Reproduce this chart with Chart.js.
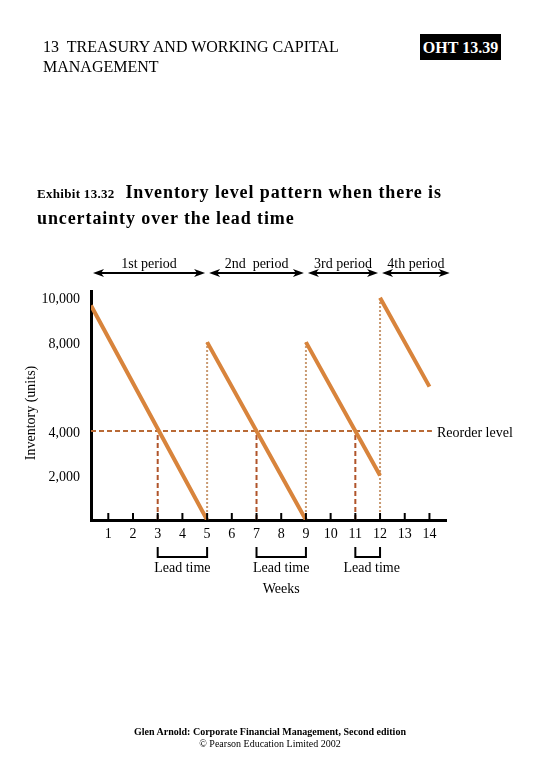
<!DOCTYPE html>
<html>
<head>
<meta charset="utf-8">
<script src="https://cdn.jsdelivr.net/npm/chart.js@4.4.1/dist/chart.umd.min.js"></script>
<style>
  body { margin: 0; background: #fff; font-family: 'Liberation Serif', serif; }
  #wrap { position: relative; width: 540px; height: 780px; overflow: hidden; }
  #inv { position: absolute; left: 0; top: 0; }
  .t { position: absolute; color: #000; white-space: nowrap; }
</style>
</head>
<body>
<div id="wrap">
  <canvas id="inv" width="540" height="780"></canvas>
  <div class="t" style="left:43px;top:37px;font-size:16px;line-height:20px;">13&nbsp; TREASURY AND WORKING CAPITAL<br>MANAGEMENT</div>
  <div class="t" style="left:420px;top:34px;width:81px;height:26px;background:#000;color:#fff;font-weight:bold;font-size:16px;line-height:27px;text-align:center;">OHT 13.39</div>
  <div class="t" style="left:37px;top:180px;font-weight:bold;font-size:18px;line-height:24px;letter-spacing:0.9px;"><span style="font-size:13px;letter-spacing:0.3px;">Exhibit 13.32</span>&nbsp; Inventory level pattern when there is<br>uncertainty over the lead time</div>
  <div class="t" style="left:0;width:540px;top:726px;text-align:center;font-size:10px;line-height:12px;"><b>Glen Arnold: Corporate Financial Management, Second edition</b><br>© Pearson Education Limited 2002</div>
</div>
<script>
// weeks on the x axis, inventory units on the y axis
const weeks = [1,2,3,4,5,6,7,8,9,10,11,12,13,14];
const yTicks = [2000, 4000, 8000, 10000];

// saw-tooth stock level (null breaks the line at each delivery)
const stockWeeks = [0.3, 5, null, 5, 9, null, 9, 12, null, 12, 14];
const stockUnits = [9650, 0, null, 8000, 0, null, 8000, 2000, null, 10000, 6000];

const reorderLevel = 4000;
const reorderWeeks = [3, 7, 11];
const deliveryWeeks = [5, 9, 12];
const deliveryUnits = [8000, 8000, 10000];

const periodLabels = ['1st period', '2nd  period', '3rd period', '4th period'];
const periodBounds = [0.3, 5, 9, 12, 14.9];
const leadStart = [3, 7, 11];
const leadEnd = [5, 9, 12];

var serif = "'Liberation Serif', 'Times New Roman', serif";

var datasets = [];
datasets.push({
    data: stockWeeks.map(function(w, i){ return {x: w, y: stockUnits[i]}; }),
    borderColor: '#d8843c',
    borderWidth: 4,
    pointRadius: 0,
    spanGaps: false,
    order: 0
});
datasets.push({
    data: [{x: 0.3, y: reorderLevel}, {x: 14.1, y: reorderLevel}],
    borderColor: '#b96a36',
    borderWidth: 2,
    borderDash: [5, 3],
    pointRadius: 0,
    order: 2
});
reorderWeeks.forEach(function(w){
    datasets.push({
        data: [{x: w, y: 0}, {x: w, y: reorderLevel}],
        borderColor: '#b0542a',
        borderWidth: 2,
        borderDash: [5, 3],
        pointRadius: 0,
        order: 1
    });
});
deliveryWeeks.forEach(function(w, i){
    datasets.push({
        data: [{x: w, y: 0}, {x: w, y: deliveryUnits[i]}],
        borderColor: '#c99a72',
        borderWidth: 2,
        borderDash: [2, 2],
        pointRadius: 0,
        order: 3
    });
});

function arrowHead(c, x, y, dir){
    c.beginPath();
    c.moveTo(x, y);
    c.lineTo(x - dir*11, y - 4);
    c.lineTo(x - dir*8, y);
    c.lineTo(x - dir*11, y + 4);
    c.closePath();
    c.fill();
}

var extras = {
    id: 'extras',
    afterDraw: function(chart){
        var c = chart.ctx, xs = chart.scales.x, ys = chart.scales.y;
        var area = chart.chartArea;
        c.save();
        c.fillStyle = '#000';
        c.strokeStyle = '#000';

        // tick marks pointing up into the plot
        c.lineWidth = 2;
        weeks.forEach(function(w){
            var px = xs.getPixelForValue(w);
            c.beginPath();
            c.moveTo(px, area.bottom);
            c.lineTo(px, area.bottom - 7);
            c.stroke();
        });

        // period arrows above the plot
        c.font = '14px ' + serif;
        c.textAlign = 'center';
        c.textBaseline = 'alphabetic';
        var ay = 273;
        for (var i = 0; i < periodLabels.length; i++) {
            var x1 = xs.getPixelForValue(periodBounds[i]) + 2;
            var x2 = xs.getPixelForValue(periodBounds[i+1]) - 2;
            c.lineWidth = 2;
            c.beginPath();
            c.moveTo(x1 + 4, ay);
            c.lineTo(x2 - 4, ay);
            c.stroke();
            arrowHead(c, x1, ay, -1);
            arrowHead(c, x2, ay, 1);
            c.fillText(periodLabels[i], (x1 + x2) / 2, ay - 5);
        }

        // reorder level label
        c.textAlign = 'left';
        c.textBaseline = 'middle';
        c.fillText('Reorder level', 437, ys.getPixelForValue(reorderLevel) + 2);

        // lead time brackets
        c.textAlign = 'center';
        c.textBaseline = 'middle';
        leadStart.forEach(function(s, i){
            var a = xs.getPixelForValue(s), b = xs.getPixelForValue(leadEnd[i]);
            c.lineWidth = 2;
            c.beginPath();
            c.moveTo(a, 547);
            c.lineTo(a, 557);
            c.lineTo(b, 557);
            c.lineTo(b, 547);
            c.stroke();
            c.fillText('Lead time', (a + b) / 2 + (i == 2 ? 4 : 0), 568);
        });
        c.fillText('Weeks', xs.getPixelForValue(8), 589);

        // y axis title
        c.translate(31, 413);
        c.rotate(-Math.PI / 2);
        c.fillText('Inventory (units)', 0, 0);
        c.restore();
    }
};

var invchart = new Chart(document.getElementById('inv').getContext('2d'), {
    type: 'line',
    data: { datasets: datasets },
    options: {
        responsive: false,
        animation: false,
        layout: { padding: { left: 0, top: 291, right: 94, bottom: 0 } },
        plugins: { legend: { display: false }, tooltip: { enabled: false } },
        scales: {
            x: {
                type: 'linear',
                min: 0.3,
                max: 14.67,
                afterFit: function(s){ s.height = 260; },
                afterBuildTicks: function(s){ s.ticks = weeks.map(function(w){ return {value: w}; }); },
                grid: { display: false, drawTicks: false },
                border: { display: true, color: '#000', width: 3 },
                ticks: { padding: 6, color: '#000', font: { family: serif, size: 14 }, autoSkip: false, maxRotation: 0 }
            },
            y: {
                min: 0,
                max: 10300,
                afterFit: function(s){ s.width = 91; },
                afterBuildTicks: function(s){ s.ticks = yTicks.map(function(v){ return {value: v}; }); },
                grid: { display: false, drawTicks: false },
                border: { display: true, color: '#000', width: 3 },
                ticks: {
                    padding: 11,
                    labelOffset: 2,
                    color: '#000',
                    font: { family: serif, size: 14 },
                    callback: function(v){ return v.toLocaleString('en-US'); }
                }
            }
        }
    },
    plugins: [extras]
});
</script>
</body>
</html>
